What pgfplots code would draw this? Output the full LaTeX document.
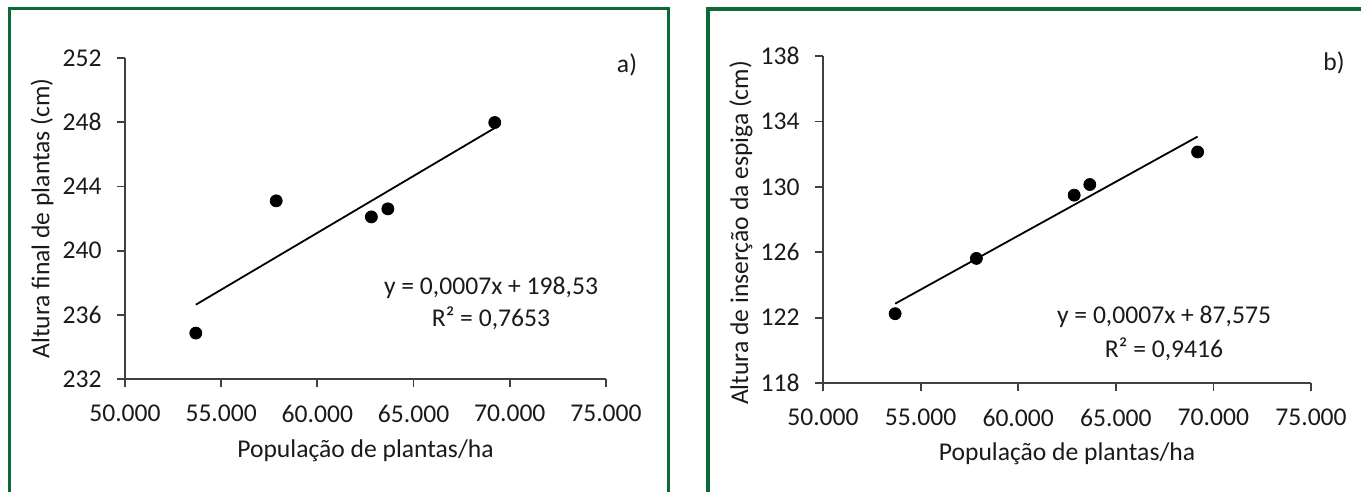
\documentclass[border=0pt]{standalone}
\usepackage{fontspec}
\setmainfont{Carlito}
\usepackage{pgfplots}
\pgfplotsset{compat=1.18}
\definecolor{frame}{RGB}{12,106,52}
\definecolor{axgray}{RGB}{64,64,64}
\definecolor{txt}{RGB}{26,26,26}
\newcommand{\cfont}{\fontsize{12.8}{15}\selectfont}
\pgfplotsset{myax/.style={
  scale only axis, anchor=south west, clip=false,
  axis lines=left,
  axis line style={axgray, line width=0.9pt, -},
  tick style={axgray, line width=0.9pt},
  tick align=outside, major tick length=4pt,
  xmin=50000, xmax=75000,
  xtick={50000,55000,60000,65000,70000,75000},
  xticklabels={50.000,55.000,60.000,65.000,70.000,75.000},
  scaled x ticks=false, scaled y ticks=false,
  ticklabel style={font=\cfont, text=txt},
  xticklabel style={inner sep=0pt, yshift=-8.7pt},
  yticklabel style={inner sep=0pt, xshift=-7.5pt},
}}
\begin{document}
\begin{tikzpicture}
\useasboundingbox (0,0) rectangle (680.5pt,-246pt);
\clip (0,0) rectangle (680.5pt,-246pt);
\draw[frame, line width=1.6pt] (4.75pt,-260pt) -- (4.75pt,-4.25pt) -- (334.35pt,-4.25pt) -- (334.35pt,-260pt);
\draw[frame, line width=1.6pt] (354pt,-260pt) -- (354pt,-4.5pt) -- (690pt,-4.5pt);

\begin{axis}[myax, at={(62.5pt,-189.5pt)}, width=240.5pt, height=160.5pt,
  ymin=232, ymax=252, ytick={232,236,240,244,248,252},
  yticklabels={232,236,240,244,248,252},
  every axis y label/.style={at={(axis description cs:-0.1726,0.5)}, anchor=center, rotate=90, font=\cfont, text=txt},
  every axis x label/.style={at={(axis description cs:0.5,-0.246)}, anchor=base, font=\cfont, text=txt},
  xlabel={População de plantas/ha}, ylabel={Altura final de plantas (cm)}]
\addplot[black, line width=0.9pt] coordinates {(53681,236.63) (69218,247.64)};
\addplot[only marks, mark=*, mark size=3pt, black] coordinates {
 (53681,234.86) (57859,243.10) (62805,242.10) (63663,242.60) (69218,247.98)};
\end{axis}

\begin{axis}[myax, at={(411.5pt,-191.5pt)}, width=244pt, height=163.5pt,
  ymin=118, ymax=138, ytick={118,122,126,130,134,138},
  yticklabels={118,122,126,130,134,138},
  every axis y label/.style={at={(axis description cs:-0.168,0.459)}, anchor=center, rotate=90, font=\cfont, text=txt},
  every axis x label/.style={at={(axis description cs:0.5,-0.2385)}, anchor=base, font=\cfont, text=txt},
  xlabel={População de plantas/ha}, ylabel={Altura de inserção da espiga (cm)}]
\addplot[black, line width=0.9pt] coordinates {(53695,122.85) (69190,133.07)};
\addplot[only marks, mark=*, mark size=3pt, black] coordinates {
 (53695,122.24) (57858,125.62) (62867,129.49) (63669,130.14) (69190,132.13)};
\end{axis}

\begin{scope}[every node/.style={font=\cfont, text=txt}]
\node at (313.5pt,-32.5pt) {a)};
\node at (245.5pt,-144pt) {y = 0,0007x + 198,53};
\node at (245.5pt,-159pt) {R² = 0,7653};
\node at (667pt,-31.5pt) {b)};
\node at (582pt,-158.5pt) {y = 0,0007x + 87,575};
\node at (582pt,-174.5pt) {R² = 0,9416};
\end{scope}
\end{tikzpicture}
\end{document}
